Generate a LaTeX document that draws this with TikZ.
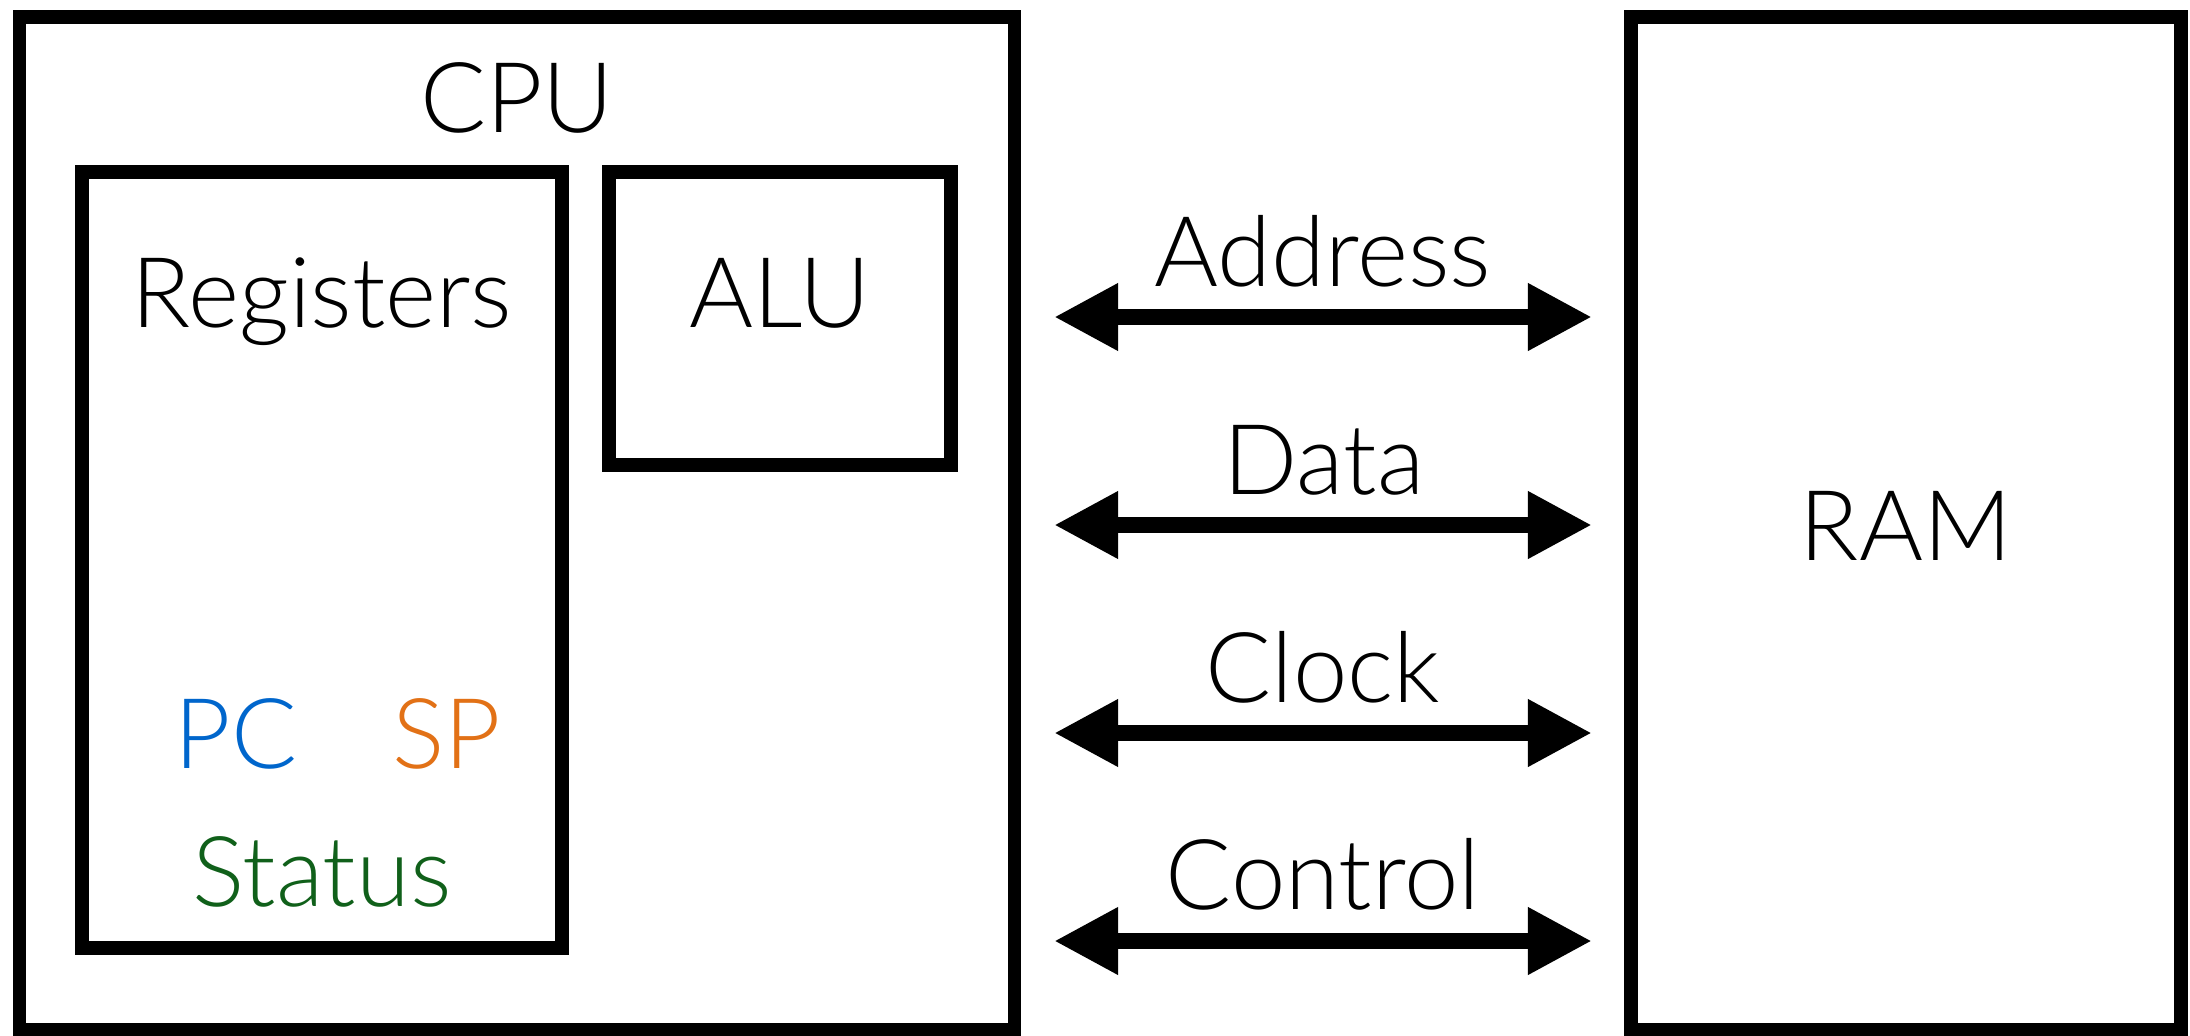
\documentclass[tikz,border=0pt]{standalone}
\usepackage{fontspec}
\setmainfont{Lato}[UprightFont=* Light]
\usetikzlibrary{arrows.meta,shadows}
\definecolor{pcblue}{RGB}{0,102,204}
\definecolor{sporange}{RGB}{226,113,22}
\definecolor{stgreen}{RGB}{16,96,26}
\begin{document}
\begin{tikzpicture}[x=0.01cm,y=-0.01cm,
  box/.style={draw=black, line width=0.135cm, fill=white, rectangle, inner sep=0pt, outer sep=0pt,
    drop shadow={shadow xshift=0.015cm, shadow yshift=-0.04cm, opacity=0.18, fill=black}},
  lbl/.style={font=\fontsize{27.8pt}{30pt}\selectfont, inner sep=0pt, anchor=base},
  bus/.style={line width=0.167cm, {Triangle[length=0.64cm,width=0.63cm]}-{Triangle[length=0.64cm,width=0.63cm]}}
]
\useasboundingbox (0,0) rectangle (2190,1036);
\fill[white] (0,0) rectangle (2190,1036);

% boxes
\node[box, minimum width=9.94cm, minimum height=10.12cm] (cpu) at (517,523.5) {};
\node[box, minimum width=4.80cm, minimum height=7.76cm] (regs) at (322,560) {};
\node[box, minimum width=3.42cm, minimum height=2.93cm] (alu) at (780,318.5) {};
\node[box, minimum width=5.50cm, minimum height=10.12cm] (ram) at (1906,523.5) {};

% labels
\node[lbl] (cpulbl) at (517,132) {CPU};
\node[lbl] (regslbl) at (322,327) {Registers};
\node[lbl] (alulbl) at (780,327) {ALU};
\node[lbl] (ramlbl) at (1906,560) {RAM};
\node[lbl, text=pcblue] (pc) at (236,768) {PC};
\node[lbl, text=sporange] (sp) at (447,768) {SP};
\node[lbl, text=stgreen] (status) at (322,906) {Status};

% bus end points
\coordinate (aL) at (1054,317);  \coordinate (aR) at (1592,317);
\coordinate (dL) at (1054,525);  \coordinate (dR) at (1592,525);
\coordinate (cL) at (1054,733);  \coordinate (cR) at (1592,733);
\coordinate (kL) at (1054,941);  \coordinate (kR) at (1592,941);

\draw[bus] (aL) -- (aR);
\draw[bus] (dL) -- (dR);
\draw[bus] (cL) -- (cR);
\draw[bus] (kL) -- (kR);

\node[lbl] (addr) at (1323,286) {Address};
\node[lbl] (data) at (1324,494) {Data};
\node[lbl] (clock) at (1323,702) {Clock};
\node[lbl] (ctrl) at (1323,909) {Control};
\end{tikzpicture}
\end{document}
